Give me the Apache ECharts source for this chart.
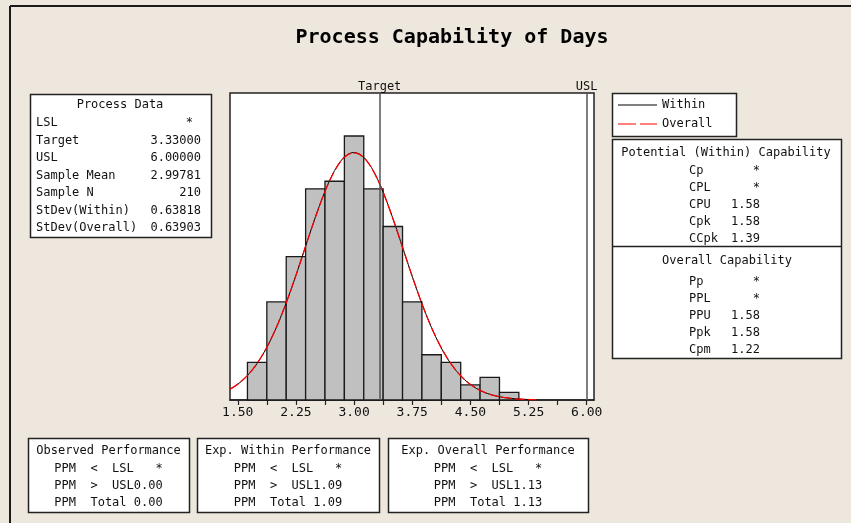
<!DOCTYPE html>
<html>
<head>
<meta charset="utf-8">
<title>Process Capability of Days</title>
<script src="https://cdn.jsdelivr.net/npm/echarts@6/dist/echarts.min.js"></script>
<style>
  html, body { margin: 0; padding: 0; background: #EEE7DD; }
  #chart { width: 851px; height: 523px; }
</style>
</head>
<body>
<div id="chart"></div>
<script>
// Histogram bins (centres) and counts
const binCenters = [1.75, 2.00, 2.25, 2.50, 2.75, 3.00, 3.25, 3.50, 3.75, 4.00, 4.25, 4.50, 4.75, 5.00];
const binCounts  = [5, 13, 19, 28, 29, 35, 28, 23, 13, 6, 5, 2, 3, 1];
const binWidth = 0.25;

// Process statistics
const target = 3.33;
const usl = 6.0;
const sampleMean = 2.99781;
const sampleN = 210;
const stdevWithin = 0.63818;
const stdevOverall = 0.63903;

// Axis ticks and labels
const tickValues  = [1.50, 1.875, 2.25, 2.625, 3.00, 3.375, 3.75, 4.125, 4.50, 4.875, 5.25, 5.625, 6.00];
const labelValues = [1.50, 2.25, 3.00, 3.75, 4.50, 5.25, 6.00];

// Table texts
const processDataLabels = ['LSL', 'Target', 'USL', 'Sample Mean', 'Sample N', 'StDev(Within)', 'StDev(Overall)'];
const processDataValues = ['*', '3.33000', '6.00000', '2.99781', '210', '0.63818', '0.63903'];
const withinCapLabels = ['Cp', 'CPL', 'CPU', 'Cpk', 'CCpk'];
const withinCapValues = ['*', '*', '1.58', '1.58', '1.39'];
const overallCapLabels = ['Pp', 'PPL', 'PPU', 'Ppk', 'Cpm'];
const overallCapValues = ['*', '*', '1.58', '1.58', '1.22'];
const observedRows = ['PPM  <  LSL   *', 'PPM  >  USL0.00', 'PPM  Total 0.00'];
const expWithinRows = ['PPM  <  LSL   *', 'PPM  >  USL1.09', 'PPM  Total 1.09'];
const expOverallRows = ['PPM  <  LSL   *', 'PPM  >  USL1.13', 'PPM  Total 1.13'];

// Fitted normal curves scaled to the histogram counts
function normalCurve(mean, sd) {
  const pts = [];
  const scale = sampleN * binWidth / (sd * Math.sqrt(2 * Math.PI));
  for (let i = 0; i <= 158; i++) {
    const x = 1.40 + i * 0.025;
    const z = (x - mean) / sd;
    pts.push([x, scale * Math.exp(-0.5 * z * z)]);
  }
  return pts;
}

const MONO = '"DejaVu Sans Mono", "Liberation Mono", monospace';
const TXT = { fontFamily: MONO, fontSize: 12, fill: '#111' };

function text(x, y, str, align) {
  return {
    type: 'text', x: x, y: y, silent: true,
    style: Object.assign({}, TXT, { text: str, textAlign: align || 'left', textVerticalAlign: 'middle' })
  };
}
function box(x, y, w, h) {
  return {
    type: 'rect', silent: true,
    shape: { x: x + 0.5, y: y + 0.5, width: w, height: h },
    style: { fill: '#fff', stroke: '#222', lineWidth: 1.5 }
  };
}
function line(x1, y1, x2, y2, stroke, width, dash) {
  return {
    type: 'line', silent: true,
    shape: { x1: x1, y1: y1, x2: x2, y2: y2 },
    style: { stroke: stroke, lineWidth: width, lineDash: dash || null }
  };
}

const graphics = [];
// window edge
graphics.push(line(10, 6, 851, 6, '#1a1a1a', 2));
graphics.push(line(10, 6, 10, 523, '#1a1a1a', 2));

// Process Data
graphics.push(box(30, 94, 181, 143));
graphics.push(text(120, 105, 'Process Data', 'center'));
processDataLabels.forEach((lab, i) => {
  const y = 123 + i * 17.5;
  graphics.push(text(36, y, lab));
  graphics.push(text(processDataValues[i] === '*' ? 193 : 201, y, processDataValues[i], 'right'));
});

// Legend
graphics.push(box(612, 93, 124, 43));
graphics.push(line(618, 105, 657, 105, '#000', 1));
graphics.push(text(662, 105, 'Within'));
graphics.push(line(618, 124, 657, 124, '#ff0000', 1.2, [18, 4]));
graphics.push(text(662, 124, 'Overall'));

// Capability
graphics.push(box(612, 139, 229, 219));
graphics.push(line(612, 246.5, 841, 246.5, '#222', 1.5));
graphics.push(text(726, 153, 'Potential (Within) Capability', 'center'));
withinCapLabels.forEach((lab, i) => {
  const y = 171 + i * 17;
  graphics.push(text(689, y, lab));
  graphics.push(text(760, y, withinCapValues[i], 'right'));
});
graphics.push(text(727, 261, 'Overall Capability', 'center'));
overallCapLabels.forEach((lab, i) => {
  const y = 282 + i * 17;
  graphics.push(text(689, y, lab));
  graphics.push(text(760, y, overallCapValues[i], 'right'));
});

// Performance tables
function perfBox(x, w, title, rows) {
  graphics.push(box(x, 438, w, 74));
  const cx = x + w / 2;
  graphics.push(text(cx, 451, title, 'center'));
  rows.forEach((r, i) => graphics.push(text(cx, 469 + i * 17, r, 'center')));
}
perfBox(28, 161, 'Observed Performance', observedRows);
perfBox(197, 182, 'Exp. Within Performance', expWithinRows);
perfBox(388, 200, 'Exp. Overall Performance', expOverallRows);

const chart = echarts.init(document.getElementById('chart'), null, { renderer: 'canvas' });

chart.setOption({
  backgroundColor: '#EEE7DD',
  animation: false,
  title: {
    text: 'Process Capability of Days',
    left: 447, top: 33, textAlign: 'center', textVerticalAlign: 'middle',
    textStyle: { fontFamily: MONO, fontSize: 20, fontWeight: 'bold', color: '#000' }
  },
  grid: {
    left: 230, top: 93, width: 364, height: 307,
    show: true, backgroundColor: '#fff', borderColor: '#222', borderWidth: 1.5
  },
  xAxis: {
    type: 'value', min: 1.40, max: 6.094,
    splitLine: { show: false },
    axisLine: { show: true, onZero: false, lineStyle: { color: '#222', width: 1.5 } },
    axisTick: { show: true, inside: false, length: 5, customValues: tickValues, lineStyle: { color: '#222', width: 1.2 } },
    axisLabel: {
      customValues: labelValues, margin: 6,
      formatter: v => v.toFixed(2),
      fontFamily: MONO, fontSize: 13, color: '#111'
    }
  },
  yAxis: { type: 'value', min: 0, max: 40.7, show: false },
  graphic: graphics,
  series: [
    {
      // specification lines, drawn under the bars
      type: 'line', z: 1, data: [], silent: true,
      markLine: {
        symbol: 'none', silent: true, animation: false,
        lineStyle: { type: 'solid', color: '#555', width: 1.5 },
        label: { show: true, position: 'end', formatter: '{b}', distance: 0, fontFamily: MONO, fontSize: 12, color: '#111' },
        data: [{ name: 'Target', xAxis: target }, { name: 'USL', xAxis: usl }]
      }
    },
    {
      type: 'custom', z: 2, silent: true,
      data: binCenters.map((c, i) => [c, binCounts[i]]),
      renderItem: function (params, api) {
        const c = api.value(0), n = api.value(1);
        const p1 = api.coord([c - binWidth / 2, n]);
        const p2 = api.coord([c + binWidth / 2, 0]);
        return {
          type: 'rect',
          shape: { x: p1[0], y: p1[1], width: p2[0] - p1[0], height: p2[1] - p1[1] },
          style: { fill: '#C0C0C0', stroke: '#1a1a1a', lineWidth: 1.3 }
        };
      }
    },
    {
      name: 'Within', type: 'line', z: 3, showSymbol: false, silent: true,
      data: normalCurve(sampleMean, stdevWithin),
      lineStyle: { color: '#000', width: 1 }
    },
    {
      name: 'Overall', type: 'line', z: 4, showSymbol: false, silent: true,
      data: normalCurve(sampleMean, stdevOverall),
      lineStyle: { color: '#ff0000', width: 1.3, type: [10, 3] }
    }
  ]
});
</script>
</body>
</html>
